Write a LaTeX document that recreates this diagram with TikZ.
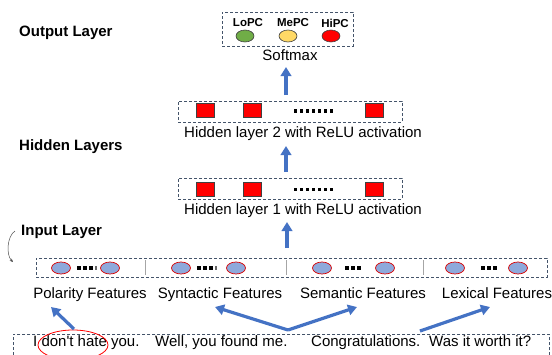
\documentclass[tikz,border=0pt]{standalone}
\usepackage{fontspec}
\setmainfont{Liberation Sans}
\usetikzlibrary{shapes.geometric,arrows.meta}
\definecolor{dashc}{HTML}{44546A}
\definecolor{arrc}{HTML}{4472C4}
\definecolor{inblue}{HTML}{8EA9DB}
\definecolor{ogreen}{HTML}{70AD47}
\definecolor{oyellow}{HTML}{FFD966}
\begin{document}
\begin{tikzpicture}[x=1pt,y=-1pt,
  lbl/.style={font=\fontsize{15}{18}\selectfont\bfseries, inner sep=0pt, text height=11pt, text depth=3.3pt},
  txt/.style={font=\fontsize{15}{18}\selectfont, inner sep=0pt, text height=11pt, text depth=3.3pt},
  cls/.style={font=\fontsize{11.5}{13}\selectfont\bfseries, inner sep=0pt},
  dbox/.style={draw=dashc, dash pattern=on 3pt off 2pt, line width=0.8pt, inner sep=0pt},
  hrect/.style={draw=black!75, fill=red, line width=0.6pt, minimum width=18pt, minimum height=14pt, inner sep=0pt},
  oc/.style={ellipse, draw=black!75, line width=0.6pt, minimum width=18pt, minimum height=12pt, inner sep=0pt},
  inc/.style={ellipse, draw=red!85!black, fill=inblue, line width=0.7pt, minimum width=19pt, minimum height=12pt, inner sep=0pt},
  barrow/.style={draw=arrc, line width=3.2pt, -{Triangle[length=9pt,width=10.5pt]}},
  sep/.style={draw=black!35, line width=0.8pt}
]
\clip (0,0) rectangle (552,354);
% layer labels
\node[lbl, anchor=west] (outl) at (19,33) {Output Layer};
\node[lbl, anchor=west] (hidl) at (19,147) {Hidden Layers};
\node[lbl, anchor=west] (inl) at (21,232) {Input Layer};
% output layer
\node[dbox, minimum width=131pt, minimum height=34pt] (obox) at (287.5,29) {};
\node[cls] (lo) at (248,23) {LoPC};
\node[cls] (me) at (293,23) {MePC};
\node[cls] (hi) at (335,23) {HiPC};
\node[oc, fill=ogreen] (loc) at (245,36) {};
\node[oc, fill=oyellow] (mec) at (288,36) {};
\node[oc, fill=red] (hic) at (331,36) {};
\node[txt] (soft) at (290,57) {Softmax};
% hidden layer 2
\node[dbox, minimum width=224pt, minimum height=21pt] (h2) at (290,111.5) {};
\node[hrect] (h2a) at (205.5,110) {};
\node[hrect] (h2b) at (252.5,110) {};
\node[hrect] (h2c) at (374,110) {};
\foreach \i in {0,...,6} \fill (293.5+6*\i,109.3) rectangle ++(3.6,3.6);
\node[txt] (h2t) at (303,134) {Hidden layer 2 with ReLU activation};
% hidden layer 1
\node[dbox, minimum width=224pt, minimum height=21pt] (h1) at (290,188.5) {};
\node[hrect] (h1a) at (205.5,189.5) {};
\node[hrect] (h1b) at (252.5,189.5) {};
\node[hrect] (h1c) at (374,189.5) {};
\foreach \i in {0,...,6} \fill (293.5+6*\i,187.8) rectangle ++(3.6,3.6);
\node[txt] (h1t) at (303,211) {Hidden layer 1 with ReLU activation};
% vertical arrows
\coordinate (a1s) at (286,95); \coordinate (a1e) at (286,67);
\coordinate (a2s) at (286,172); \coordinate (a2e) at (286,146);
\coordinate (a3s) at (287,248); \coordinate (a3e) at (287,222);
\draw[barrow] (a1s) -- (a1e);
\draw[barrow] (a2s) -- (a2e);
\draw[barrow] (a3s) -- (a3e);
% input layer
\node[dbox, minimum width=511pt, minimum height=19pt] (inbox) at (291.5,267.5) {};
\draw[sep] (145,260) -- (145,275);
\draw[sep] (286,260) -- (286,275);
\draw[sep] (423,260) -- (423,275);
\node[inc] (c1) at (61,268) {};
\node[inc] (c2) at (110,268) {};
\node[inc] (c3) at (181,268) {};
\node[inc] (c4) at (236,268) {};
\node[inc] (c5) at (322,268) {};
\node[inc] (c6) at (385,268) {};
\node[inc] (c7) at (455,268) {};
\node[inc] (c8) at (518,268) {};
\foreach \i in {0,1,2} \fill (77+6*\i,266.2) rectangle ++(3.6,3.6);
\fill[black!60] (95,266.2) rectangle ++(1.6,3.6);
\foreach \i in {0,1,2} \fill (197+6*\i,266.2) rectangle ++(3.6,3.6);
\fill[black!60] (215,266.2) rectangle ++(1.6,3.6);
\foreach \i in {0,1,2} \fill (345+6*\i,266.2) rectangle ++(3.6,3.6);
\foreach \i in {0,1,2} \fill (481+6*\i,266.2) rectangle ++(3.6,3.6);
% curved pointer
\coordinate (cs) at (15,231); \coordinate (ce) at (13,262);
\draw[black!70, line width=0.5pt, -{Stealth[length=3.5pt,width=3pt]}] (cs) .. controls (7,236) and (6,255) .. (ce);
% feature labels
\node[txt] (fpol) at (90,295) {Polarity Features};
\node[txt] (fsyn) at (220,295) {Syntactic Features};
\node[txt] (fsem) at (363,295) {Semantic Features};
\node[txt] (flex) at (497,295) {Lexical Features};
% sentences
\node[dbox, minimum width=536pt, minimum height=40pt, anchor=north west] (sbox) at (13,334) {};
\node[txt, anchor=west] (s1) at (33,343) {I don\textquotesingle t hate you.};
\node[txt, anchor=west] (s2) at (155,343) {Well, you found me.};
\node[txt, anchor=west] (s3) at (311,343) {Congratulations.};
\node[txt, anchor=west] (s4) at (429,343) {Was it worth it?};
\node[ellipse, draw=red, line width=0.8pt, minimum width=70pt, minimum height=30pt, inner sep=0pt] (ring) at (73,345) {};
% feature arrows
\coordinate (p1s) at (74,329); \coordinate (p1e) at (51,307);
\coordinate (p2s) at (288,330); \coordinate (p2e) at (215,307); \coordinate (p3e) at (357,307);
\coordinate (p4s) at (420,331); \coordinate (p4e) at (490,307);
\draw[barrow] (p1s) -- (p1e);
\draw[barrow] (p2s) -- (p2e);
\draw[barrow] (p2s) -- (p3e);
\draw[barrow] (p4s) -- (p4e);
\end{tikzpicture}
\end{document}
